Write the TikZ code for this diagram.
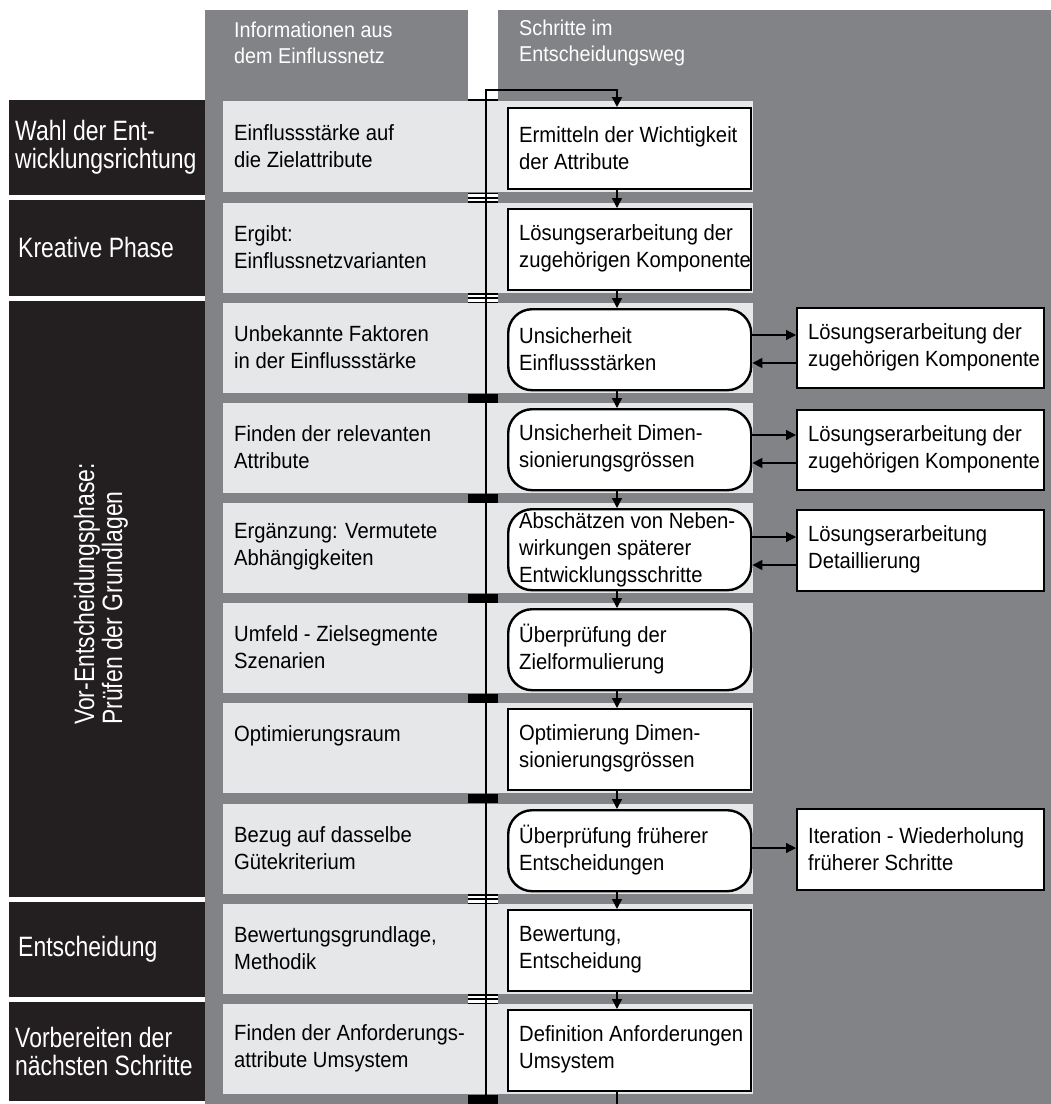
\documentclass[tikz,border=0pt]{standalone}
\usepackage{fontspec}
\setmainfont{Liberation Sans}[FakeStretch=0.92]
\newfontfamily\narrowsans{Liberation Sans}[FakeStretch=0.82]
\usetikzlibrary{arrows.meta,calc}

\definecolor{panelgrey}{RGB}{130,131,134}
\definecolor{rowgrey}{RGB}{230,231,232}
\definecolor{phaseblack}{RGB}{35,31,32}

\tikzset{
  txt/.style={font=\fontsize{22}{27}\selectfont, align=left, inner sep=0pt, anchor=west},
  headtxt/.style={txt, text=white, font=\fontsize{21.5}{26}\selectfont},
  phasetxt/.style={txt, text=white, font=\narrowsans\fontsize{28}{28}\selectfont},
  phasebox/.style={fill=phaseblack, inner sep=0pt, minimum width=196pt, anchor=north west},
  stepbox/.style={draw=black, fill=white, line width=2.4pt, inner sep=0pt,
    minimum width=243pt, minimum height=81pt, anchor=north west},
  roundbox/.style={stepbox, rounded corners=24pt},
  sidebox/.style={stepbox, minimum width=247pt},
  flow/.style={line width=1.3pt, -{Triangle[length=10pt,width=10pt]}},
  mainline/.style={line width=2pt},
  barmark/.pic={\fill[black] (468,-4.5) rectangle (498,4.5);},
  doublemark/.pic={
    \fill[black] (468,-5) rectangle (498,5);
    \fill[white] (468,-3.5) rectangle (498,-1);
    \fill[white] (468,1) rectangle (498,3.5);},
}

\begin{document}
\begin{tikzpicture}[x=1pt,y=-1pt]
\useasboundingbox (0,0) rectangle (1051,1104);

% grey panels: two header columns and the common body
\fill[panelgrey] (205,10) rectangle (468,100);
\fill[panelgrey] (498,10) rectangle (1051,100);
\fill[panelgrey] (205,100) rectangle (1051,1104);

% light row bands
\fill[rowgrey] (223,101) rectangle (753,192);
\foreach \t in {203,303,403,503,603,703,804,904,1004}
  \fill[rowgrey] (223,\t) rectangle (753,\t+90);

% column headers
\node[headtxt] (h1) at (234,43) {Informationen aus\\dem Einflussnetz};
\node[headtxt] (h2) at (519,43) {Schritte im\\Entscheidungsweg};

% phase boxes
\node[phasebox, minimum height=95pt] (p1) at (9,100) {};
\node[phasebox, minimum height=95.5pt] (p2) at (9,200) {};
\node[phasebox, minimum height=596pt] (p3) at (9,300.5) {};
\node[phasebox, minimum height=95pt] (p4) at (9,901.5) {};
\node[phasebox, minimum height=99.5pt] (p5) at (9,1001.5) {};
\node[phasetxt] (p1t) at ($(p1.west)+(6,0)$) {Wahl der Ent-\\wicklungsrichtung};
\node[phasetxt] (p2t) at ($(p2.west)+(9,0)$) {Kreative Phase};
\node[phasetxt, anchor=center, rotate=90] (p3t) at (101,594)
  {Vor-Entscheidungsphase:\\Prüfen der Grundlagen};
\node[phasetxt] (p4t) at ($(p4.west)+(9,0)$) {Entscheidung};
\node[phasetxt] (p5t) at ($(p5.west)+(6,0)$) {Vorbereiten der\\nächsten Schritte};

% information from the influence network
\node[txt] (i1) at (234,146) {Einflussstärke auf\\die Zielattribute};
\node[txt] (i2) at (234,247) {Ergibt:\\Einflussnetzvarianten};
\node[txt] (i3) at (234,347) {Unbekannte Faktoren\\in der Einflussstärke};
\node[txt] (i4) at (234,447) {Finden der relevanten\\Attribute};
\node[txt] (i5) at (234,547) {Ergänzung: Vermutete\\Abhängigkeiten};
\node[txt] (i6) at (234,647) {Umfeld - Zielsegmente\\Szenarien};
\node[txt, anchor=base west] (i7) at (234,741) {Optimierungsraum};
\node[txt] (i8) at (234,848) {Bezug auf dasselbe\\Gütekriterium};
\node[txt] (i9) at (234,948) {Bewertungsgrundlage,\\Methodik};
\node[txt] (i10) at (234,1048) {Finden der Anforderungs-\\attribute Umsystem};

% markers on the time line
\draw[line width=2pt] (468,100) -- (498,100);
\foreach \y in {197.5,298,899,999}
  \pic at (0,\y) {doublemark};
\foreach \y in {398,498,598,698,798.5,1099}
  \pic at (0,\y) {barmark};

% steps of the decision path
\node[stepbox]  (s1)  at (507,107) {};
\node[stepbox]  (s2)  at (507,208) {};
\node[roundbox] (s3)  at (507,308) {};
\node[roundbox] (s4)  at (507,408) {};
\node[roundbox] (s5)  at (507,508) {};
\node[roundbox] (s6)  at (507,608) {};
\node[stepbox]  (s7)  at (507,708) {};
\node[roundbox] (s8)  at (507,809) {};
\node[stepbox]  (s9)  at (507,909) {};
\node[stepbox]  (s10) at (507,1009) {};
\node[txt] (s1t)  at ($(s1.west)+(12,-1)$)  {Ermitteln der Wichtigkeit\\der Attribute};
\node[txt] (s2t)  at ($(s2.west)+(12,-1)$)  {Lösungserarbeitung der\\zugehörigen Komponente};
\node[txt] (s3t)  at ($(s3.west)+(12,-1)$)  {Unsicherheit\\Einflussstärken};
\node[txt] (s4t)  at ($(s4.west)+(12,-1)$)  {Unsicherheit Dimen-\\sionierungsgrössen};
\node[txt] (s5t)  at ($(s5.west)+(12,0)$)   {Abschätzen von Neben-\\wirkungen späterer\\Entwicklungsschritte};
\node[txt] (s6t)  at ($(s6.west)+(12,-1)$)  {Überprüfung der\\Zielformulierung};
\node[txt] (s7t)  at ($(s7.west)+(12,-1)$)  {Optimierung Dimen-\\sionierungsgrössen};
\node[txt] (s8t)  at ($(s8.west)+(12,-1)$)  {Überprüfung früherer\\Entscheidungen};
\node[txt] (s9t)  at ($(s9.west)+(12,-1)$)  {Bewertung,\\Entscheidung};
\node[txt] (s10t) at ($(s10.west)+(12,-1)$) {Definition Anforderungen\\Umsystem};

% side activities
\node[sidebox, minimum height=80pt] (r3) at (796,307) {};
\node[sidebox, minimum height=80pt] (r4) at (796,409) {};
\node[sidebox] (r5) at (796,509) {};
\node[sidebox] (r8) at (796,808) {};
\node[txt] (r3t) at ($(r3.west)+(12,-1)$) {Lösungserarbeitung der\\zugehörigen Komponente};
\node[txt] (r4t) at ($(r4.west)+(12,-1)$) {Lösungserarbeitung der\\zugehörigen Komponente};
\node[txt] (r5t) at ($(r5.west)+(12,-1)$) {Lösungserarbeitung\\Detaillierung};
\node[txt] (r8t) at ($(r8.west)+(12,-1)$) {Iteration - Wiederholung\\früherer Schritte};

% time line and entry into the first step
\coordinate (base) at (486,1104);
\coordinate (turn) at (617,90);
\coordinate (fx) at (617,0);
\coordinate (exit) at (617,1104);
\draw[mainline, -{Triangle[length=10pt,width=10pt]}] (base) |- (turn) -- (s1.north -| turn);

% flow between the steps
\foreach \a/\b in {s1/s2,s2/s3,s3/s4,s4/s5,s5/s6,s6/s7,s7/s8,s8/s9,s9/s10}
  \draw[flow] (\a.south -| fx) -- (\b.north -| fx);
\draw[line width=1.3pt] (s10.south -| fx) -- (exit);

% exchange with the side activities
\draw[flow] (s3.east |- 0,335) -- (r3.west |- 0,335);
\draw[flow] (r3.west |- 0,363) -- (s3.east |- 0,363);
\draw[flow] (s4.east |- 0,435) -- (r4.west |- 0,435);
\draw[flow] (r4.west |- 0,463) -- (s4.east |- 0,463);
\draw[flow] (s5.east |- 0,537) -- (r5.west |- 0,537);
\draw[flow] (r5.west |- 0,565) -- (s5.east |- 0,565);
\draw[flow] (s8.east |- 0,848) -- (r8.west |- 0,848);
\end{tikzpicture}
\end{document}
